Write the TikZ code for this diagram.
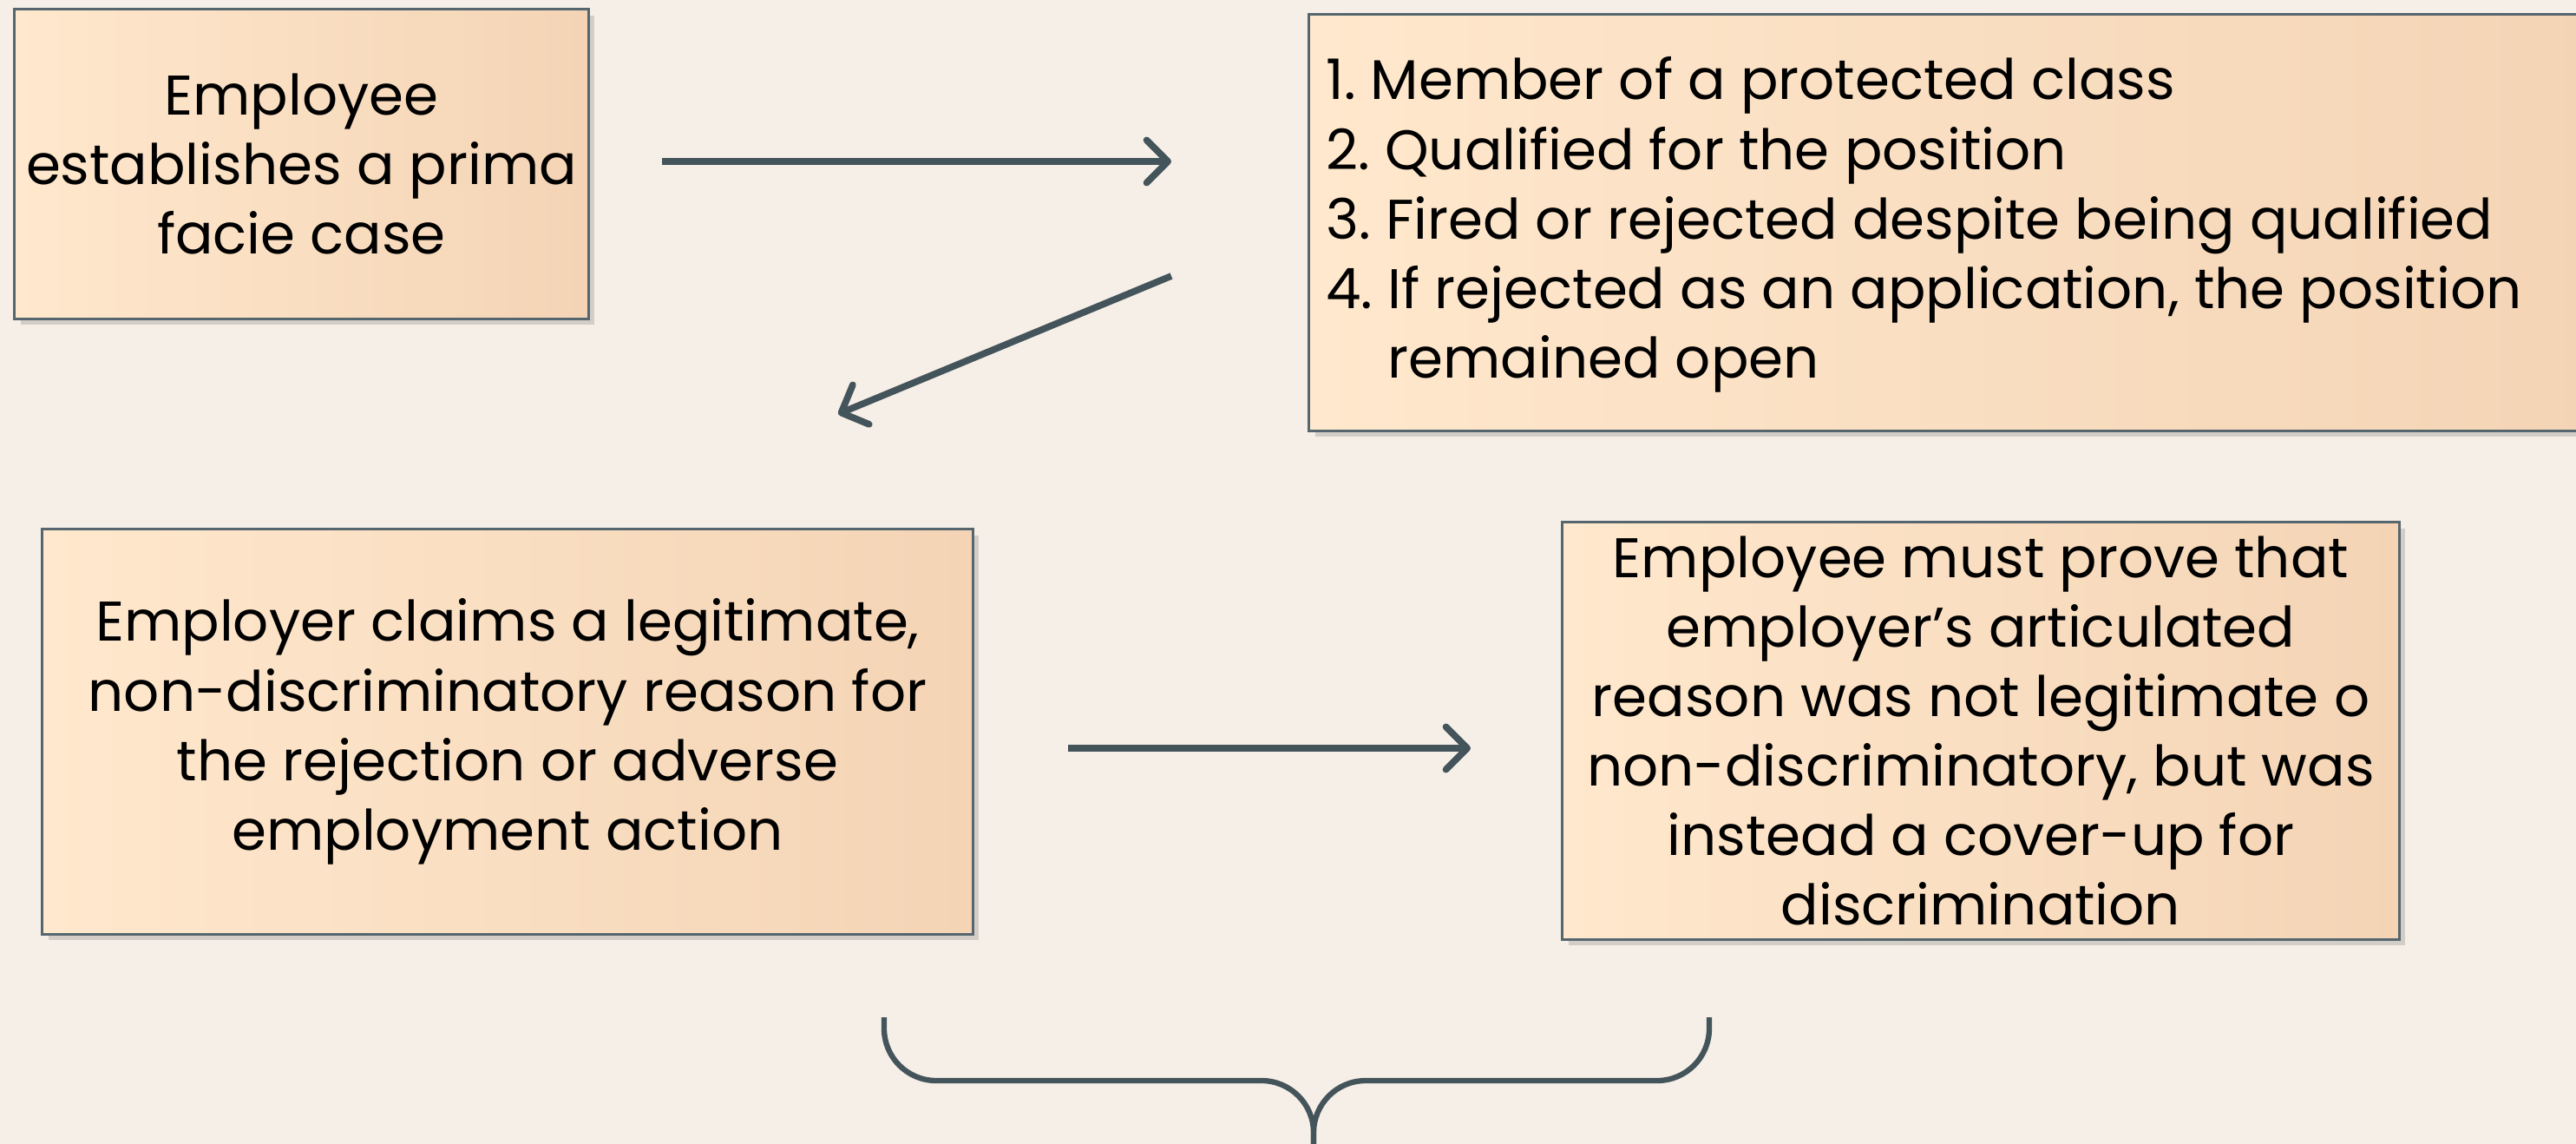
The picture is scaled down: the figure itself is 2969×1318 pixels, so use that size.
\documentclass[tikz,border=0pt]{standalone}
\usepackage{fontspec}
\setmainfont{Poppins}
\usetikzlibrary{arrows.meta, shadows}
\definecolor{wall}{HTML}{F6EFE7}
\definecolor{peach-light}{HTML}{FFE8CD}
\definecolor{peach-dark}{HTML}{F4D4B5}
\definecolor{card-edge}{HTML}{56666E}
\definecolor{slate}{HTML}{44545B}

\begin{document}
\begin{tikzpicture}[x=0.01cm, y=-0.01cm,
    every node/.style={font=\fontsize{18.3}{22.8}\selectfont, text=black},
    card/.style={draw=card-edge, line width=0.9pt, rectangle, inner sep=0,
      left color=peach-light, right color=peach-dark, align=center,
      drop shadow={shadow xshift=2pt, shadow yshift=-2pt, opacity=0.3}},
    flow/.style={-{Straight Barb[length=7pt, width=14pt, line cap=round, line join=round]},
      line width=2.2pt, color=slate}]
    % wall
    \fill[wall] (0,0) rectangle (2969,1318);
    \useasboundingbox (0,0) rectangle (2969,1318);
    % the four steps
    \node[card, minimum width=6.61cm, minimum height=3.56cm]
      (prima) at (347.5,189) {Employee\\ establishes a prima\\ facie case};
    \node[card, minimum width=14.83cm, minimum height=4.79cm, anchor=west]
      (elements) at (1507,256.5) {};
    \node[anchor=west, align=left] (elementlist) at (1516,259)
      {1.\ Member of a protected class\\
       2.\ Qualified for the position\\
       3.\ Fired or rejected despite being qualified\\
       4.\ If rejected as an application, the position\\
       \hphantom{4.\ }remained open};
    \node[card, minimum width=10.72cm, minimum height=4.66cm]
      (reason) at (585,843)
      {Employer claims a legitimate,\\ non-discriminatory reason for\\
       the rejection or adverse\\ employment action};
    \node[card, minimum width=9.64cm, minimum height=4.80cm]
      (pretext) at (2283,842)
      {Employee must prove that\\ employer’s articulated\\
       reason was not legitimate o\\ non-discriminatory, but was\\
       instead a cover-up for\\ discrimination};
    % arrows
    \coordinate (a1s) at (763,186);
    \coordinate (a1e) at (1350,186);
    \coordinate (a2s) at (1350,318);
    \coordinate (a2e) at (966,477);
    \coordinate (a3s) at (1231,862);
    \coordinate (a3e) at (1695,862);
    \draw[flow] (a1s) -- (a1e);
    \draw[flow] (a2s) -- (a2e);
    \draw[flow] (a3s) -- (a3e);
    % brace
    \draw[slate, line width=1.8pt, rounded corners=0.6cm]
      (1019,1172) -- (1019,1245) -- (1514,1245) -- (1514,1340);
    \draw[slate, line width=1.8pt, rounded corners=0.6cm]
      (1514,1340) -- (1514,1245) -- (1970,1245) -- (1970,1172);
\end{tikzpicture}
\end{document}
